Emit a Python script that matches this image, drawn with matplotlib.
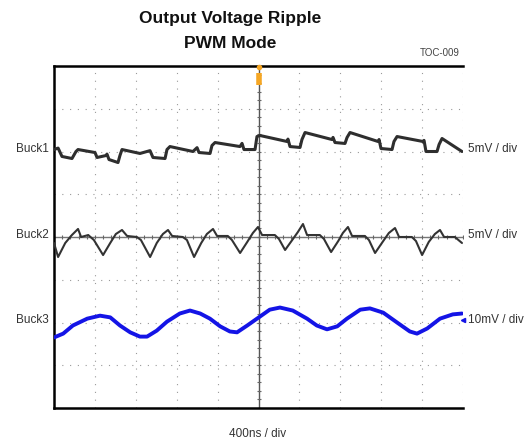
import matplotlib
matplotlib.use("Agg")
import matplotlib.pyplot as plt
import numpy as np

# ---- data (time in ns, ripple in mV relative to each trace's baseline) ----
buck1_t = [0, 40, 78, 176, 215, 235, 401, 421, 509, 518, 538, 626, 645, 665, 841, 939, 968,
           1086, 1105, 1134, 1359, 1399, 1418, 1526, 1545, 1575, 1819, 1839, 1858, 1966, 1985,
           2015, 2279, 2288, 2308, 2406, 2425, 2455, 2719, 2729, 2748, 2846, 2866, 2895, 3169,
           3179, 3198, 3306, 3325, 3355, 3609, 3619, 3638, 3746, 3766, 3795, 3990]
buck1_mv = [0.23, 0.40, -0.58, -0.82, 0.0, 0.23, -0.12, -0.70, -0.47, -0.30, -0.94, -1.29, -0.47,
            0.23, -0.23, 0.10, -0.70, -0.82, 0.23, 0.58, 0.0, 0.45, -0.12, -0.23, 0.70, 1.05,
            0.58, 0.95, 0.23, 0.23, 1.75, 1.87, 1.17, 1.45, 0.58, 0.47, 1.40, 2.22, 1.40, 1.65,
            1.05, 0.94, 1.64, 2.22, 1.17, 1.40, 0.35, 0.23, 1.17, 1.75, 1.17, 1.30, 0.0, 0.0,
            0.82, 1.52, 0.0]

buck2_t = [0, 40, 110, 175, 235, 265, 335, 390, 480, 550, 605, 665, 715, 810, 850, 940, 1005,
           1065, 1115, 1155, 1260, 1300, 1370, 1440, 1495, 1555, 1595, 1700, 1740, 1820, 1890,
           1945, 1995, 2035, 2160, 2200, 2260, 2330, 2385, 2435, 2475, 2600, 2640, 2710, 2780,
           2825, 2875, 2915, 3040, 3080, 3140, 3220, 3275, 3335, 3375, 3500, 3540, 3600, 3665,
           3725, 3775, 3815, 3920, 3990]
buck2_mv = [-0.70, -2.34, -0.70, 0.23, 0.94, 0.0, 0.23, -0.35, -2.11, -0.70, 0.35, 0.82, 0.12,
            0.0, -0.35, -2.34, -0.70, 0.35, 0.82, 0.12, 0.0, -0.35, -2.34, -0.70, 0.35, 0.94,
            0.12, 0.12, -0.35, -1.87, -0.58, 0.47, 1.17, 0.23, 0.23, -0.23, -1.52, -0.35, 0.58,
            1.52, 0.23, 0.23, -0.23, -1.76, -0.47, 0.47, 1.17, 0.12, 0.12, -0.35, -1.87, -0.47,
            0.47, 1.05, 0.0, 0.0, -0.47, -2.11, -0.58, 0.35, 0.82, 0.0, 0.0, -0.70]

buck3_t = [0, 90, 185, 325, 450, 550, 645, 745, 840, 910, 1005, 1105, 1230, 1330, 1430, 1525,
           1625, 1720, 1790, 1890, 2015, 2110, 2210, 2335, 2475, 2570, 2670, 2770, 2865, 2995,
           3090, 3220, 3355, 3480, 3550, 3650, 3775, 3900, 3990]
buck3_mv = [-3.5, -2.6, -0.7, 0.9, 1.6, 1.2, -0.7, -2.3, -3.3, -3.3, -1.9, 0.2, 2.1, 2.8, 2.1,
            0.9, -0.9, -2.1, -2.3, -0.7, 1.4, 3.0, 3.5, 2.8, 0.9, -0.7, -1.6, -0.9, 0.9, 3.0,
            3.3, 2.3, 0.0, -2.1, -2.6, -1.4, 0.9, 1.9, 2.1]

trace_names = ["Buck1", "Buck2", "Buck3"]
trace_scales = ["5mV / div", "5mV / div", "10mV / div"]
mv_per_div = [5, 5, 10]
trace_base_div = [6, 4, 2]
time_per_div_ns = 400
x_label = "400ns / div"
title_lines = ["Output Voltage Ripple", "PWM Mode"]
tag = "TOC-009"

# ---- figure ----
W, H = 531, 447
fig = plt.figure(figsize=(W / 100, H / 100), dpi=100)
ax = fig.add_axes([54 / W, 1 - 408 / H, (463 - 54) / W, (408 - 66) / H])
ax.set_xlim(0, 10)
ax.set_ylim(0, 8)
ax.set_xticks([])
ax.set_yticks([])

# dotted grid
for k in range(1, 11):
    ax.axvline(k, color="#9a9a9a", lw=0.8, ls=(0, (1, 6)), zorder=1)
for k in range(1, 8):
    ax.axhline(k, color="#9a9a9a", lw=0.8, ls=(0, (1, 6)), zorder=1)

# centre crosshair with minor ticks
ax.axvline(5, color="#555555", lw=1.0, zorder=2)
ax.axhline(4, color="#777777", lw=1.0, zorder=2)
minor_x = np.arange(0, 10.01, 0.2)
minor_y = np.arange(0, 8.01, 0.2)
ax.plot(minor_x, np.full_like(minor_x, 4), ls="none", marker="|", ms=3.5, mew=0.8,
        color="#666666", zorder=2)
ax.plot(np.full_like(minor_y, 5), minor_y, ls="none", marker="_", ms=3.5, mew=0.8,
        color="#666666", zorder=2)

# spines
for s in ["left", "top", "bottom"]:
    ax.spines[s].set_linewidth(1.8)
    ax.spines[s].set_color("black")
ax.spines["right"].set_visible(False)

# traces
tr = [(buck1_t, buck1_mv, "#2e2e2e", 2.2),
      (buck2_t, buck2_mv, "#333333", 1.5),
      (buck3_t, buck3_mv, "#1414e6", 2.8)]
for i, (t, mv, c, lw) in enumerate(tr):
    x = np.array(t) / time_per_div_ns
    y = trace_base_div[i] + np.array(mv) / mv_per_div[i]
    ax.plot(x, y, color=c, lw=lw, solid_joinstyle="round", solid_capstyle="round", zorder=3)

# trigger marker
ax.plot([5, 5], [7.56, 7.84], color="#f5a623", lw=4, solid_capstyle="butt",
        clip_on=False, zorder=4)
ax.plot([5], [7.98], marker="o", color="#f5a623", ms=3, clip_on=False, zorder=4)
# channel marker at right edge
ax.plot([10.0], [2.05], marker="<", color="#1414e6", ms=3, clip_on=False, zorder=4)

font = ["Liberation Sans", "DejaVu Sans"]
narrow = ["Liberation Sans Narrow", "Liberation Sans", "DejaVu Sans"]

for i, name in enumerate(trace_names):
    ax.text(-0.12, trace_base_div[i] + 0.05, name, transform=ax.transData, ha="right",
            va="center", fontsize=8.5, color="#333333", family=font)
    ax.text(10.12, trace_base_div[i] + 0.05, trace_scales[i], transform=ax.transData,
            ha="left", va="center", fontsize=8.5, color="#333333", family=font)

fig.text(258 / W, 1 - 434 / H, x_label, ha="center", va="center", fontsize=8.5,
         color="#333333", family=font)
for line, ypx in zip(title_lines, [19, 43]):
    fig.text(230 / W, 1 - ypx / H, line, ha="center", va="center", fontsize=12.5,
             fontweight="bold", color="#111111", family=narrow)
fig.text(460 / W, 1 - 53 / H, tag, ha="right", va="center", fontsize=7,
         color="#444444", family=font)

fig.savefig("out.png", dpi=100)
